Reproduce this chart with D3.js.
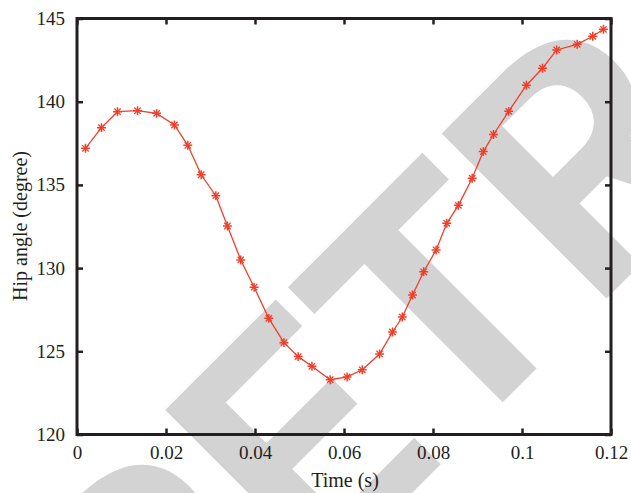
<!DOCTYPE html>
<html>
<head>
<meta charset="utf-8">
<script src="https://cdn.jsdelivr.net/npm/d3@7"></script>
<style>
  body { margin: 0; background: #fff; }
  svg { display: block; }
</style>
</head>
<body>
<div id="chart"></div>
<script>
// hip angle over time
var timeS = [0.0019, 0.0055, 0.0091, 0.0136, 0.0179, 0.0219, 0.0249, 0.0279, 0.0312, 0.0338,
             0.0368, 0.0398, 0.0431, 0.0465, 0.0497, 0.0528, 0.0569, 0.0607, 0.0641, 0.0680,
             0.0709, 0.0731, 0.0754, 0.0779, 0.0807, 0.0831, 0.0857, 0.0888, 0.0913, 0.0936,
             0.0970, 0.1010, 0.1046, 0.1078, 0.1124, 0.1159, 0.1183];
var hipAngle = [137.2, 138.44, 139.4, 139.46, 139.3, 138.6, 137.38, 135.61, 134.35, 132.53,
                130.49, 128.85, 126.98, 125.52, 124.68, 124.1, 123.29, 123.46, 123.89, 124.84,
                126.16, 127.06, 128.38, 129.78, 131.09, 132.69, 133.77, 135.4, 137.0, 138.03,
                139.42, 140.99, 142.01, 143.11, 143.45, 143.93, 144.35];
var xTicks = [0, 0.02, 0.04, 0.06, 0.08, 0.1, 0.12];
var xTickLabels = ["0", "0.02", "0.04", "0.06", "0.08", "0.1", "0.12"];
var yTicks = [120, 125, 130, 135, 140, 145];
var yTickLabels = ["120", "125", "130", "135", "140", "145"];
var watermark = "RETRACTED";

var width = 631, height = 493;
var plotL = 77, plotR = 611, plotT = 18.5, plotB = 434.5;
var ink = "#231f20";
var red = "#ee3f2b";
var serif = "'Liberation Serif', 'DejaVu Serif', serif";

var svg = d3.select("#chart").append("svg")
    .attr("width", width)
    .attr("height", height);

// big gray watermark, underneath everything
var wm = svg.append("text")
    .attr("font-family", "Roboto, 'Liberation Sans', sans-serif")
    .attr("font-weight", "bold")
    .attr("font-size", "328px")
    .attr("fill", "#d3d3d3")
    .text(watermark);
// put the middle of the first T at (520,385) on the baseline
var node = wm.node();
var off = node.getSubStringLength(0, 2) + node.getSubStringLength(2, 1) / 2;
var c = Math.SQRT1_2;
wm.attr("transform", "translate(" + (520 - off * c) + "," + (385 + off * c) + ") rotate(-45)");

var x = d3.scaleLinear().domain([0, 0.12]).range([plotL, plotR]);
var y = d3.scaleLinear().domain([120, 145]).range([plotB, plotT]);

function styleAxis(g) {
    g.select(".domain").remove();
    g.selectAll(".tick line").attr("stroke", ink).attr("stroke-width", 2.5);
    g.selectAll(".tick text")
        .attr("fill", ink)
        .attr("font-family", serif)
        .attr("font-size", "19px");
}

svg.append("g")
    .attr("transform", "translate(0," + plotB + ")")
    .call(d3.axisBottom(x).tickValues(xTicks)
        .tickFormat(function(d, i) { return xTickLabels[i]; })
        .tickSize(-6).tickPadding(11))
    .call(styleAxis);

svg.append("g")
    .attr("transform", "translate(0," + plotT + ")")
    .call(d3.axisTop(x).tickValues(xTicks).tickFormat("").tickSize(-6))
    .call(styleAxis);

svg.append("g")
    .attr("transform", "translate(" + plotL + ",0)")
    .call(d3.axisLeft(y).tickValues(yTicks)
        .tickFormat(function(d, i) { return yTickLabels[i]; })
        .tickSize(-6).tickPadding(12))
    .call(styleAxis);

svg.append("g")
    .attr("transform", "translate(" + plotR + ",0)")
    .call(d3.axisRight(y).tickValues(yTicks).tickFormat("").tickSize(-6))
    .call(styleAxis);

svg.append("rect")
    .attr("x", plotL)
    .attr("y", plotT)
    .attr("width", plotR - plotL)
    .attr("height", plotB - plotT)
    .attr("fill", "none")
    .attr("stroke", ink)
    .attr("stroke-width", 3);

var pts = timeS.map(function(t, i) { return [t, hipAngle[i]]; });

svg.append("path")
    .datum(pts)
    .attr("fill", "none")
    .attr("stroke", red)
    .attr("stroke-width", 1.3)
    .attr("d", d3.line()
        .x(function(d) { return x(d[0]); })
        .y(function(d) { return y(d[1]); }));

var plus = d3.symbol(d3.symbolPlus, 28);
var times = d3.symbol(d3.symbolTimes, 28);
var marks = svg.append("g").selectAll("g")
    .data(pts)
    .enter().append("g")
    .attr("transform", function(d) { return "translate(" + x(d[0]) + "," + y(d[1]) + ")"; });
marks.append("path").attr("d", plus).attr("fill", "none").attr("stroke", red).attr("stroke-width", 1.5);
marks.append("path").attr("d", times).attr("fill", "none").attr("stroke", red).attr("stroke-width", 1.3);

svg.append("text")
    .attr("x", 345)
    .attr("y", 487)
    .attr("text-anchor", "middle")
    .attr("font-family", serif)
    .attr("font-size", "20px")
    .attr("fill", ink)
    .text("Time (s)");

svg.append("text")
    .attr("transform", "translate(27,226) rotate(-90)")
    .attr("text-anchor", "middle")
    .attr("font-family", serif)
    .attr("font-size", "20px")
    .attr("fill", ink)
    .text("Hip angle (degree)");
</script>
</body>
</html>
